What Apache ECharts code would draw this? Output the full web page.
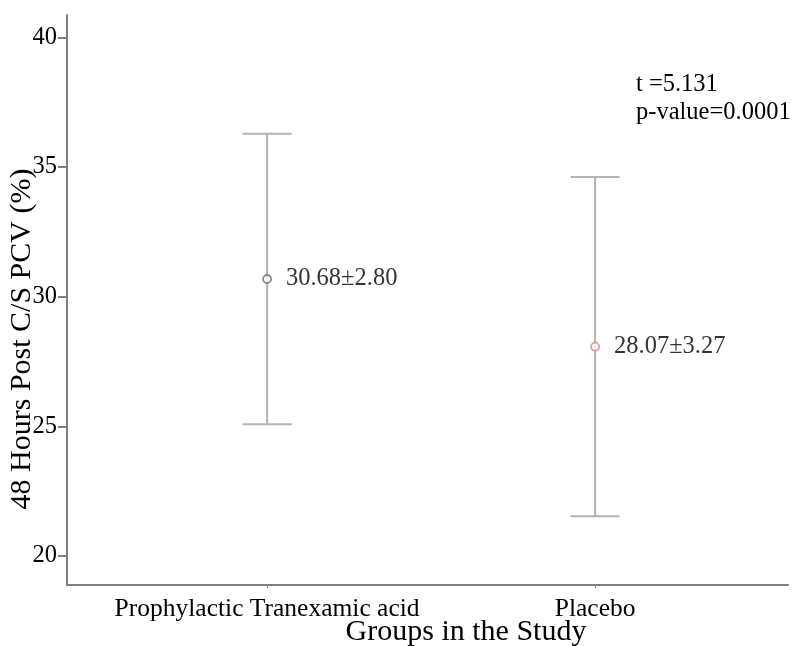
<!DOCTYPE html>
<html><head><meta charset="utf-8">
<script src="https://cdn.jsdelivr.net/npm/echarts@6/dist/echarts.min.js"></script>
<style>html,body{margin:0;padding:0;background:#fff}#c{width:792px;height:646px}</style>
</head><body><div id="c"></div>
<script>
var groups = ['Prophylactic Tranexamic acid', 'Placebo'];
var groupPos = [1, 2];
var means = [30.68, 28.07];
var sds = [2.80, 3.27];
var upper = [36.28, 34.61];
var lower = [25.08, 21.53];
var yTicks = [20, 25, 30, 35, 40];
var markerColors = ['#6e6e6e', '#d9848a'];
var statsText = ['t =5.131', 'p-value=0.0001'];
var xTitle = 'Groups in the Study';
var yTitle = '48 Hours Post C/S PCV (%)';

var FONT = '"Liberation Serif", "Times New Roman", serif';
var FS = 24.5;
var chart = echarts.init(document.getElementById('c'));

var barData = groupPos.map(function (x, i) { return [x, lower[i], upper[i]]; });
var meanData = groupPos.map(function (x, i) {
  return {
    value: [x, means[i]],
    itemStyle: { color: '#fff', borderColor: markerColors[i], borderWidth: 1.8 },
    label: { formatter: means[i].toFixed(2) + '±' + sds[i].toFixed(2) }
  };
});

chart.setOption({
  animation: false,
  backgroundColor: '#fff',
  grid: { left: 67, right: 4, top: 15, bottom: 61, outerBoundsMode: 'none', containLabel: false },
  xAxis: {
    type: 'value',
    min: 0.39, max: 2.588,
    axisLine: { show: true, lineStyle: { color: '#7f7f7f', width: 2 } },
    axisTick: { show: true, customValues: groupPos, length: 3, lineStyle: { color: '#7f7f7f', width: 1 } },
    axisLabel: {
      customValues: groupPos,
      margin: 11,
      fontFamily: FONT, fontSize: 25.5, color: '#000',
      formatter: function (v) { var i = groupPos.indexOf(Math.round(v)); return i >= 0 ? groups[i] : ''; }
    },
    splitLine: { show: false }
  },
  yAxis: {
    type: 'value',
    min: 18.88, max: 40.86,
    axisLine: { show: true, lineStyle: { color: '#7f7f7f', width: 2 } },
    axisTick: { show: true, customValues: yTicks, length: 9, lineStyle: { color: '#7f7f7f', width: 2 } },
    axisLabel: { customValues: yTicks, margin: 10, fontFamily: FONT, fontSize: FS, color: '#000' },
    splitLine: { show: false }
  },
  series: [
    {
      type: 'custom',
      data: barData,
      renderItem: function (params, api) {
        var x = api.value(0);
        var lo = api.coord([x, api.value(1)]);
        var hi = api.coord([x, api.value(2)]);
        var hw = 24.5;
        var style = { stroke: '#b3b3b3', lineWidth: 2 };
        return {
          type: 'group',
          children: [
            { type: 'line', shape: { x1: lo[0], y1: lo[1], x2: hi[0], y2: hi[1] }, style: style },
            { type: 'line', shape: { x1: hi[0] - hw, y1: hi[1], x2: hi[0] + hw, y2: hi[1] }, style: style },
            { type: 'line', shape: { x1: lo[0] - hw, y1: lo[1], x2: lo[0] + hw, y2: lo[1] }, style: style }
          ]
        };
      },
      z: 1
    },
    {
      type: 'scatter',
      data: meanData,
      symbol: 'circle',
      symbolSize: 8,
      z: 3,
      label: {
        show: true, position: 'right', distance: 14,
        fontFamily: FONT, fontSize: FS, color: '#000'
      }
    }
  ],
  graphic: [
    {
      type: 'text', left: 636, top: 71,
      style: { text: statsText.join('\n'), fontFamily: FONT, fontSize: FS, fill: '#000', lineHeight: 28 }
    },
    {
      type: 'text', x: 466, y: 632,
      style: { text: xTitle, fontFamily: FONT, fontSize: 30, fill: '#000', align: 'center', verticalAlign: 'middle' }
    },
    {
      type: 'text', x: 22, y: 339, rotation: Math.PI / 2,
      style: { text: yTitle, fontFamily: FONT, fontSize: 30, fill: '#000', align: 'center', verticalAlign: 'middle' }
    }
  ]
});
</script>
</body></html>
